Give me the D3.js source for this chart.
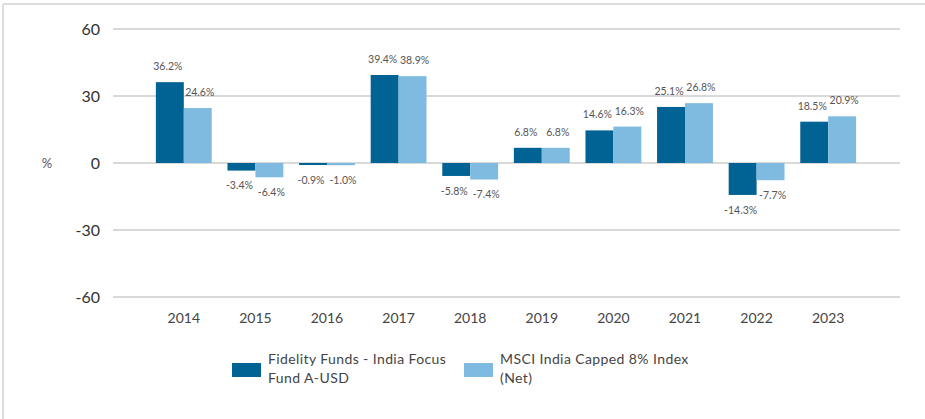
<!DOCTYPE html>
<html>
<head>
<meta charset="utf-8">
<script src="https://cdn.jsdelivr.net/npm/d3@7"></script>
<style>
  body { margin: 0; background: #fff; }
  svg { display: block; font-family: Lato, "Open Sans", sans-serif; }
</style>
</head>
<body>
<div id="chart"></div>
<script>
const years = ["2014", "2015", "2016", "2017", "2018", "2019", "2020", "2021", "2022", "2023"];
const fundValues = [36.2, -3.4, -0.9, 39.4, -5.8, 6.8, 14.6, 25.1, -14.3, 18.5];
const indexValues = [24.6, -6.4, -1.0, 38.9, -7.4, 6.8, 16.3, 26.8, -7.7, 20.9];
const seriesNames = ["Fidelity Funds - India Focus|Fund A-USD", "MSCI India Capped 8% Index|(Net)"];
const yTicks = [60, 30, 0, -30, -60];

const W = 925, H = 419;
const colors = ["#006394", "#7fbbe1"];

const svg = d3.select("#chart").append("svg")
  .attr("width", W).attr("height", H);

// frame (top + left edges)
svg.append("line").attr("x1", 3).attr("x2", W).attr("y1", 4).attr("y2", 4)
  .attr("stroke", "#dcdcdc").attr("stroke-width", 2);
svg.append("line").attr("x1", 3).attr("x2", 3).attr("y1", 4).attr("y2", H)
  .attr("stroke", "#dcdcdc").attr("stroke-width", 2);

const y = d3.scaleLinear().domain([-60, 60]).range([297, 29]);
const x = d3.scaleBand().domain(years).range([148, 864]).paddingInner(0.22).paddingOuter(0.11);
const x1 = d3.scaleBand().domain([0, 1]).range([0, x.bandwidth()]);

// gridlines
svg.append("g").selectAll("line").data(yTicks).join("line")
  .attr("x1", 113).attr("x2", 900)
  .attr("y1", d => y(d)).attr("y2", d => y(d))
  .attr("stroke", "#d9d9d9").attr("stroke-width", 2);

// y tick labels
svg.append("g").selectAll("text").data(yTicks).join("text")
  .attr("x", 100).attr("y", d => y(d)).attr("dy", "0.35em")
  .attr("text-anchor", "end").attr("font-size", 16).attr("fill", "#333")
  .text(d => d);

svg.append("text").attr("x", 47).attr("y", y(0)).attr("dy", "0.35em")
  .attr("text-anchor", "middle").attr("font-size", 13).attr("fill", "#555").text("%");

// x labels
svg.append("g").selectAll("text").data(years).join("text")
  .attr("x", d => x(d) + x.bandwidth() / 2).attr("y", 318).attr("dy", "0.35em")
  .attr("text-anchor", "middle").attr("font-size", 14).attr("fill", "#444")
  .text(d => d);

const rows = years.map((yr, i) => ({ year: yr, vals: [fundValues[i], indexValues[i]] }));

const groups = svg.append("g").selectAll("g").data(rows).join("g")
  .attr("transform", d => `translate(${x(d.year)},0)`);

groups.selectAll("rect").data(d => d.vals).join("rect")
  .attr("x", (v, i) => x1(i))
  .attr("width", x1.bandwidth())
  .attr("y", v => y(Math.max(0, v)))
  .attr("height", v => Math.abs(y(v) - y(0)))
  .attr("fill", (v, i) => colors[i]);

groups.selectAll("text").data(d => d.vals).join("text")
  .attr("x", (v, i) => x1(i) + x1.bandwidth() / 2 - (i === 0 ? 2 : -2))
  .attr("y", v => v >= 0 ? y(v) - 12 : y(v) + 15)
  .attr("dy", v => v >= 0 ? 0 : "0.35em")
  .attr("text-anchor", "middle").attr("font-size", 10.5).attr("fill", "#555")
  .text(v => v.toFixed(1) + "%");

// legend
const legendX = [232, 464];
const legend = svg.append("g").selectAll("g").data(seriesNames).join("g")
  .attr("transform", (d, i) => `translate(${legendX[i]},363)`);
legend.append("rect").attr("width", 29).attr("height", 14)
  .attr("fill", (d, i) => colors[i]);
legend.append("text").attr("x", 36).attr("y", 1)
  .attr("font-size", 14).attr("fill", "#444").attr("letter-spacing", 0.4)
  .selectAll("tspan").data(d => d.split("|")).join("tspan")
  .attr("x", 36).attr("dy", (d, i) => i === 0 ? 0 : 19)
  .text(d => d);
</script>
</body>
</html>
